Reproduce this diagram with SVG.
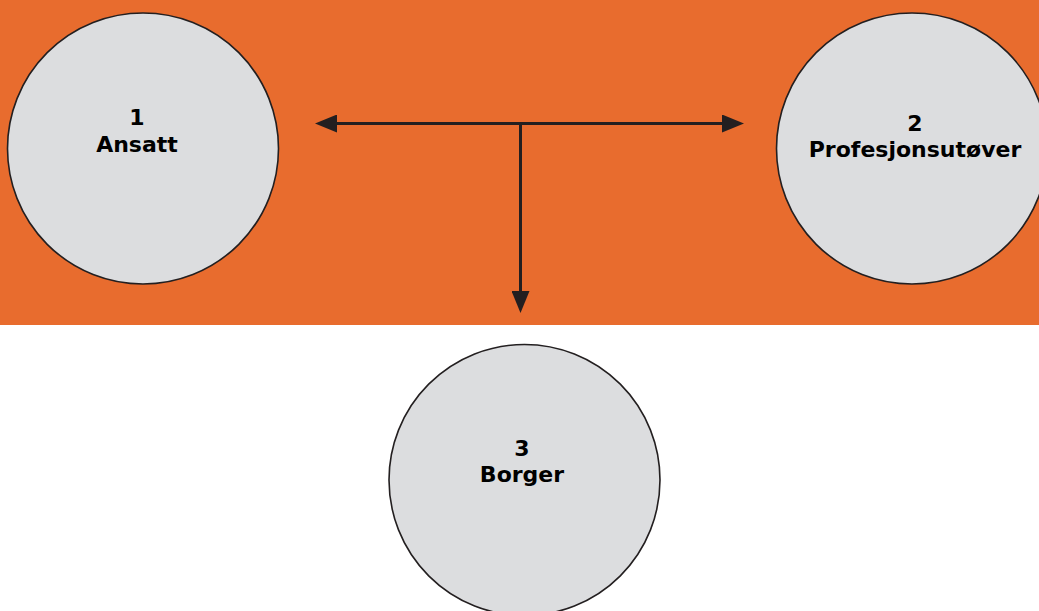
<svg xmlns="http://www.w3.org/2000/svg" width="1039" height="611" viewBox="0 0 1039 611">
<style>
.node{fill:#dcdddf;stroke:#231f20;stroke-width:1.6}
.lbl{font-family:"DejaVu Sans",Verdana,sans-serif;font-weight:bold;font-size:22px;fill:#000;text-anchor:middle}
.conn{stroke:#231f20;stroke-width:3;fill:none}
</style>
<defs>
<marker id="ah" viewBox="0 0 22 18" refX="12" refY="9" markerWidth="22" markerHeight="18" markerUnits="userSpaceOnUse" orient="auto-start-reverse">
<path d="M0,0 L22,9 L0,18 Z" fill="#231f20"/>
</marker>
</defs>
<rect x="0" y="0" width="1039" height="325" fill="#e86c2e"/>
<rect x="0" y="325" width="1039" height="286" fill="#ffffff"/>
<g id="node1">
<circle class="node" cx="143" cy="148.5" r="135.5"/>
<text class="lbl" x="137" y="125">1</text>
<text class="lbl" x="137" y="152">Ansatt</text>
</g>
<g id="node2">
<circle class="node" cx="912" cy="148.5" r="135.5"/>
<text class="lbl" x="915" y="131">2</text>
<text class="lbl" x="915" y="157">Profesjonsutøver</text>
</g>
<g id="node3">
<circle class="node" cx="524.5" cy="480" r="135.5"/>
<text class="lbl" x="522" y="456">3</text>
<text class="lbl" x="522" y="482">Borger</text>
</g>
<g id="connectors">
<line class="conn" x1="325" y1="123.5" x2="734" y2="123.5" marker-start="url(#ah)" marker-end="url(#ah)"/>
<line class="conn" x1="520.5" y1="123.5" x2="520.5" y2="303" marker-end="url(#ah)"/>
</g>
</svg>
